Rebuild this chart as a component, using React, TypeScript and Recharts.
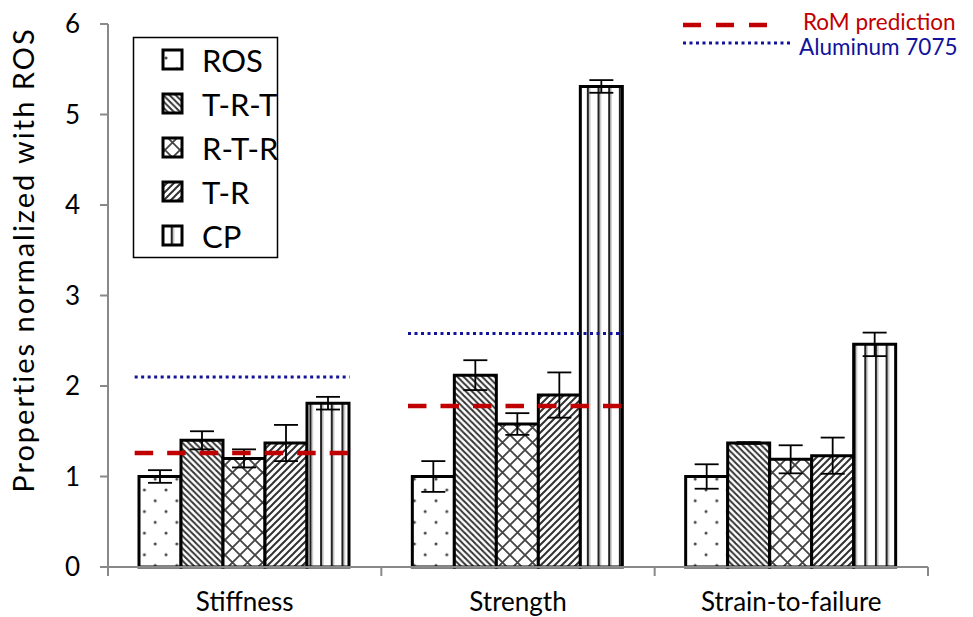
import React from 'react';
import { ComposedChart, Bar, XAxis, YAxis, ErrorBar, Scatter } from 'recharts';

const categories = ['Stiffness', 'Strength', 'Strain-to-failure'];
const rosValues = [1.0, 1.0, 1.0];
const rosErrors = [0.07, 0.17, 0.135];
const trtValues = [1.4, 2.12, 1.37];
const trtErrors = [0.1, 0.165, 0.01];
const rtrValues = [1.2, 1.58, 1.19];
const rtrErrors = [0.1, 0.12, 0.155];
const trValues = [1.37, 1.9, 1.23];
const trErrors = [0.2, 0.25, 0.2];
const cpValues = [1.81, 5.31, 2.46];
const cpErrors = [0.07, 0.07, 0.13];
const romPrediction = [1.26, 1.78, null];
const aluminum7075 = [2.1, 2.58, null];
const yTicks = [0, 1, 2, 3, 4, 5, 6];

const seriesNames = ['ROS', 'T-R-T', 'R-T-R', 'T-R', 'CP'];
const seriesKeys = ['ros', 'trt', 'rtr', 'tr', 'cp'];
const patternIds = ['pROS', 'pTRT', 'pRTR', 'pTR', 'pCP'];

const data = categories.map((cat, i) => ({
  cat,
  ros: rosValues[i],
  rosErr: rosErrors[i],
  trt: trtValues[i],
  trtErr: trtErrors[i],
  rtr: rtrValues[i],
  rtrErr: rtrErrors[i],
  tr: trValues[i],
  trErr: trErrors[i],
  cp: cpValues[i],
  cpErr: cpErrors[i],
  rom: romPrediction[i],
  al: aluminum7075[i],
}));

const FONT = 'Lato, "Open Sans", sans-serif';
const AXIS_COLOR = '#898989';
const AXIS_Y = 567;
const HALF_BAND = (928 - 108) / 6;
const RED = '#C00000';
const BLUE = '#12129A';

const XTick = (props: any) => {
  const { x, index, payload } = props;
  return (
    <g>
      <line x1={x - HALF_BAND} x2={x - HALF_BAND} y1={AXIS_Y} y2={AXIS_Y + 9} stroke={AXIS_COLOR} strokeWidth={2} />
      {index === categories.length - 1 && (
        <line x1={x + HALF_BAND} x2={x + HALF_BAND} y1={AXIS_Y} y2={AXIS_Y + 9} stroke={AXIS_COLOR} strokeWidth={2} />
      )}
      <text x={x} y={AXIS_Y + 44} textAnchor="middle" fontFamily={FONT} fontSize={26} fill="#000">
        {payload.value}
      </text>
    </g>
  );
};

const makeSegment = (color: string, width: number, dash: string) => (props: any) => {
  const { cx, cy } = props;
  if (cx == null || cy == null || isNaN(cx) || isNaN(cy)) return <g />;
  return (
    <line x1={cx - 110} x2={cx + 105} y1={cy} y2={cy} stroke={color} strokeWidth={width} strokeDasharray={dash} />
  );
};

const RomShape = makeSegment(RED, 4.5, '18.5 14');
const AlShape = makeSegment(BLUE, 3, '3 3.5');

export default function App() {
  return (
    <div style={{ position: 'absolute', left: 0, top: 0, width: 973, height: 617, background: '#fff' }}>
      <div style={{ position: 'absolute', left: 0, top: 0 }}>
        <ComposedChart
          width={973}
          height={617}
          data={data}
          margin={{ top: 24, right: 45, bottom: 0, left: 48 }}
          barCategoryGap={31}
          barGap={0}
        >
          <XAxis
            dataKey="cat"
            tickLine={false}
            axisLine={{ stroke: AXIS_COLOR, strokeWidth: 2 }}
            tick={<XTick />}
            height={50}
            interval={0}
          />
          <YAxis
            domain={[0, 6]}
            ticks={yTicks}
            width={60}
            axisLine={{ stroke: AXIS_COLOR, strokeWidth: 2 }}
            tickLine={{ stroke: AXIS_COLOR, strokeWidth: 2 }}
            tickSize={8}
            tickMargin={20}
            tick={{ fontSize: 26, fill: '#000', fontFamily: FONT }}
            allowDecimals={false}
          />
          {seriesKeys.map((k, i) => (
            <Bar
              key={k}
              dataKey={k}
              name={seriesNames[i]}
              fill={`url(#${patternIds[i]})`}
              stroke="#000"
              strokeWidth={3}
              isAnimationActive={false}
            >
              <ErrorBar dataKey={`${k}Err`} width={12} strokeWidth={1.8} stroke="#000" />
            </Bar>
          ))}
          <Scatter dataKey="rom" shape={RomShape} isAnimationActive={false} />
          <Scatter dataKey="al" shape={AlShape} isAnimationActive={false} />
        </ComposedChart>
      </div>
      <svg width={973} height={617} style={{ position: 'absolute', left: 0, top: 0, pointerEvents: 'none' }}>
        <defs>
          <pattern id="pROS" patternUnits="userSpaceOnUse" width={21.6} height={21.6}>
            <rect width={21.6} height={21.6} fill="#fff" />
            <circle cx={4} cy={4} r={1.5} fill="#444" />
            <circle cx={14.8} cy={14.8} r={1.5} fill="#444" />
          </pattern>
          <pattern id="pTRT" patternUnits="userSpaceOnUse" width={6.2} height={6.2}>
            <rect width={6.2} height={6.2} fill="#fff" />
            <path d="M-1,-1 L7.2,7.2 M-1,5.2 L1,7.2 M5.2,-1 L7.2,1" stroke="#333" strokeWidth={2} />
          </pattern>
          <pattern id="pRTR" patternUnits="userSpaceOnUse" width={15} height={15}>
            <rect width={15} height={15} fill="#fff" />
            <path d="M0,0 L15,15 M15,0 L0,15" stroke="#444" strokeWidth={1.8} />
          </pattern>
          <pattern id="pTR" patternUnits="userSpaceOnUse" width={7} height={7}>
            <rect width={7} height={7} fill="#fff" />
            <path d="M-1,8 L8,-1 M-1,1 L1,-1 M6,8 L8,6" stroke="#333" strokeWidth={2} />
          </pattern>
          <pattern id="pCP" patternUnits="userSpaceOnUse" width={10.67} height={10}>
            <rect width={10.67} height={10} fill="#fff" />
            <rect x={0} y={0} width={2} height={10} fill="#222" />
            <rect x={2} y={0} width={1.5} height={10} fill="#bbb" />
          </pattern>
        </defs>

        <text
          x={22}
          y={260}
          transform="rotate(-90 22 260)"
          textAnchor="middle"
          dominantBaseline="central"
          fontFamily={FONT}
          fontSize={29}
          letterSpacing={2}
          fill="#000"
        >
          Properties normalized with ROS
        </text>

        <rect x={133.5} y={37.5} width={144} height={220} fill="#fff" stroke="#000" strokeWidth={1.5} />
        {seriesNames.map((n, i) => {
          const cy = 60 + i * 44;
          return (
            <g key={n}>
              <rect x={163} y={cy - 10} width={19} height={19} fill={`url(#${patternIds[i]})`} stroke="#000" strokeWidth={3} />
              <text x={202} y={cy} dominantBaseline="central" fontFamily={FONT} fontSize={31} fill="#000">
                {n}
              </text>
            </g>
          );
        })}

        <line x1={683} x2={767} y1={25} y2={25} stroke={RED} strokeWidth={4.5} strokeDasharray="18 15" />
        <text x={803} y={21} dominantBaseline="central" fontFamily={FONT} fontSize={22.5} fill={RED}>
          RoM prediction
        </text>
        <line x1={683} x2={790} y1={43} y2={43} stroke={BLUE} strokeWidth={3} strokeDasharray="3 3.5" />
        <text x={799} y={46} dominantBaseline="central" fontFamily={FONT} fontSize={22.5} fill={BLUE}>
          Aluminum 7075
        </text>
      </svg>
    </div>
  );
}
